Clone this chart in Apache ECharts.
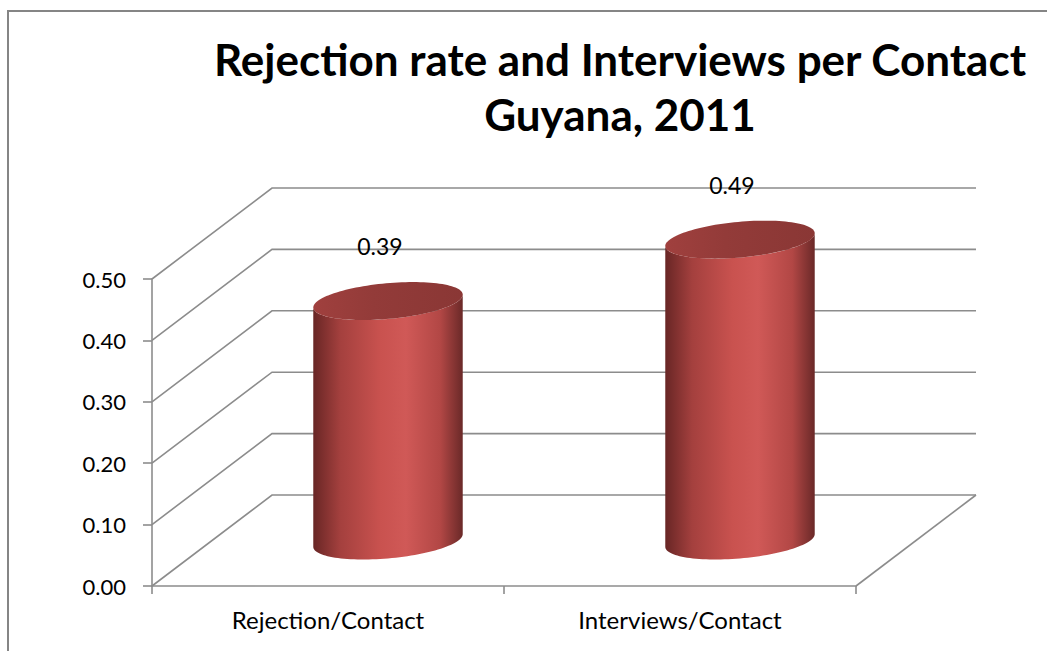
<!DOCTYPE html>
<html>
<head>
<meta charset="utf-8">
<script src="https://cdn.jsdelivr.net/npm/echarts@6/dist/echarts.min.js"></script>
<style>
  html, body { margin: 0; padding: 0; background: #ffffff; }
  #chart { width: 1047px; height: 651px; }
</style>
</head>
<body>
<div id="chart"></div>
<script>
// Chart data
const categories = ['Rejection/Contact', 'Interviews/Contact'];
const values = [0.39, 0.49];
const yTicks = [0, 0.1, 0.2, 0.3, 0.4, 0.5];

// Oblique 3D look: offset from the front plane to the back wall (pixels)
const DEPTH_X = 120;
const DEPTH_Y = -91;
const GRID_COLOR = '#8c8c8c';
const FONT = 'Lato, "Open Sans", sans-serif';

const chart = echarts.init(document.getElementById('chart'), null, { renderer: 'svg' });

// Point on the projected circle of a cylinder cap
function capPoint(cx, cy, a, b, c, t) {
  return [cx + a * Math.cos(t) + b * Math.sin(t), cy - c * Math.sin(t)];
}

// Side walls, floor and back-wall gridlines
function renderWalls(params, api) {
  const cs = params.coordSys;
  const v = api.value(0);
  const y = api.coord([0, v])[1];
  const x0 = cs.x;
  const x1 = cs.x + cs.width;
  const lineStyle = { stroke: GRID_COLOR, lineWidth: 1.6, fill: null };
  const children = [
    { type: 'polyline', shape: { points: [[x0, y], [x0 + DEPTH_X, y + DEPTH_Y], [x1 + DEPTH_X, y + DEPTH_Y]] }, style: lineStyle }
  ];
  if (v === 0) {
    children.push({ type: 'line', shape: { x1: x1, y1: y, x2: x1 + DEPTH_X, y2: y + DEPTH_Y }, style: lineStyle });
  }
  return { type: 'group', children: children };
}

// Cylinder for one category
function renderCylinder(params, api) {
  const idx = api.value(0);
  const val = api.value(1);
  const base = api.coord([idx, 0]);
  const top = api.coord([idx, val]);
  const band = api.size([1, 0])[0];
  const cx = base[0] + DEPTH_X / 2;
  const cyB = base[1] + DEPTH_Y / 2;
  const cyT = top[1] + DEPTH_Y / 2;
  const a = band * 0.2;
  const c = 19;
  const b = c * DEPTH_X / -DEPTH_Y;
  const phi = Math.atan2(b, a);
  const n = 60;

  const body = [];
  for (let i = 0; i <= n; i++) {
    const t = Math.PI + phi + Math.PI * i / n;
    body.push(capPoint(cx, cyB, a, b, c, t));
  }
  for (let i = n; i >= 0; i--) {
    const t = Math.PI + phi + Math.PI * i / n;
    body.push(capPoint(cx, cyT, a, b, c, t));
  }
  const cap = [];
  for (let i = 0; i < 2 * n; i++) {
    cap.push(capPoint(cx, cyT, a, b, c, 2 * Math.PI * i / (2 * n)));
  }

  return {
    type: 'group',
    children: [
      {
        type: 'polygon',
        shape: { points: body },
        style: {
          fill: {
            type: 'linear', x: 0, y: 0, x2: 1, y2: 0,
            colorStops: [
              { offset: 0, color: '#682625' },
              { offset: 0.18, color: '#a4403e' },
              { offset: 0.45, color: '#c9524f' },
              { offset: 0.62, color: '#d05957' },
              { offset: 0.85, color: '#b24745' },
              { offset: 1, color: '#6a2928' }
            ]
          }
        }
      },
      {
        type: 'polygon',
        shape: { points: cap },
        style: {
          fill: {
            type: 'linear', x: 0, y: 0, x2: 1, y2: 0,
            colorStops: [
              { offset: 0, color: '#a0403e' },
              { offset: 0.4, color: '#933b39' },
              { offset: 1, color: '#8a3735' }
            ]
          }
        }
      },
      {
        type: 'text',
        style: {
          text: val.toFixed(2),
          x: cx - 8,
          y: cyT - 55,
          align: 'center',
          verticalAlign: 'middle',
          fill: '#000000',
          font: '23px ' + FONT
        }
      }
    ]
  };
}

const option = {
  backgroundColor: '#ffffff',
  animation: false,
  title: {
    text: 'Rejection rate and Interviews per Contact\nGuyana, 2011',
    left: 615,
    textAlign: 'center',
    top: 26,
    textStyle: {
      fontFamily: FONT,
      fontWeight: 'bold',
      fontSize: 44,
      lineHeight: 55,
      color: '#000000'
    }
  },
  graphic: [
    { type: 'polyline', shape: { points: [[1047, 11], [8, 11], [8, 651]] }, style: { stroke: '#858585', lineWidth: 2, fill: null } }
  ],
  grid: { left: 152, right: 191, top: 279, bottom: 65, containLabel: false },
  xAxis: {
    type: 'category',
    data: categories,
    boundaryGap: true,
    axisLine: { lineStyle: { color: GRID_COLOR, width: 1.6 } },
    axisTick: { show: true, length: 8, lineStyle: { color: GRID_COLOR, width: 1.6 } },
    axisLabel: { color: '#000000', fontFamily: FONT, fontSize: 24, margin: 21 }
  },
  yAxis: {
    type: 'value',
    min: 0,
    max: 0.5,
    interval: 0.1,
    axisLine: { show: true, lineStyle: { color: GRID_COLOR, width: 1.6 } },
    axisTick: { show: true, length: 9, lineStyle: { color: GRID_COLOR, width: 1.6 } },
    splitLine: { show: false },
    axisLabel: {
      color: '#000000', fontFamily: FONT, fontSize: 22, margin: 26,
      formatter: function (v) { return v.toFixed(2); }
    }
  },
  series: [
    {
      type: 'custom',
      name: 'walls',
      renderItem: renderWalls,
      data: yTicks.map(function (t) { return [t]; }),
      z: 1,
      silent: true
    },
    {
      type: 'custom',
      name: 'values',
      renderItem: renderCylinder,
      data: values.map(function (v, i) { return [i, v]; }),
      z: 3,
      silent: true
    }
  ]
};

chart.setOption(option);
</script>
</body>
</html>
